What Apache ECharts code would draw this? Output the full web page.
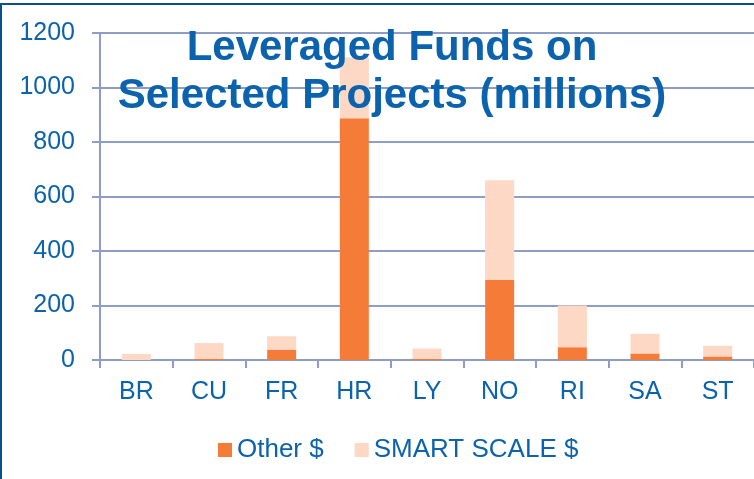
<!DOCTYPE html>
<html>
<head>
<meta charset="utf-8">
<script src="https://cdn.jsdelivr.net/npm/echarts@6/dist/echarts.min.js"></script>
<style>
  html, body { margin: 0; padding: 0; background: #fff; }
  #wrap { position: relative; width: 754px; height: 479px; overflow: hidden; }
  #chart { width: 754px; height: 479px; }
  .edge-top { position: absolute; left: 0; top: 3px; width: 754px; height: 2px; background: #0b4f91; }
  .edge-left { position: absolute; left: 0; top: 3px; width: 2px; height: 476px; background: #0b4f91; }
</style>
</head>
<body>
<div id="wrap">
  <div id="chart"></div>
  <div class="edge-top"></div>
  <div class="edge-left"></div>
</div>
<script>
const categories = ['BR', 'CU', 'FR', 'HR', 'LY', 'NO', 'RI', 'SA', 'ST']
const otherValues = [0, 4, 38, 887, 4, 294, 47, 24, 13]
const smartScaleValues = [22, 58, 49, 223, 38, 366, 153, 72, 39]
const yTicks = { min: 0, max: 1200, interval: 200 }
const titleLines = ['Leveraged Funds on', 'Selected Projects (millions)']

const blue = '#0b62ad'
const gridBlue = '#8d9dc8'

const chart = echarts.init(document.getElementById('chart'))

chart.setOption({
  animation: false,
  textStyle: { fontFamily: 'Liberation Sans, Arial, sans-serif' },
  grid: { left: 100, top: 33, width: 657, height: 327 },
  legend: {
    left: 213,
    top: 432,
    itemWidth: 14,
    itemHeight: 14,
    itemGap: 31,
    icon: 'rect',
    textStyle: { color: blue, fontSize: 26 },
    data: ['Other $', 'SMART SCALE $'],
  },
  xAxis: {
    type: 'category',
    data: categories,
    axisLine: { lineStyle: { color: gridBlue, width: 2 } },
    axisTick: { show: true, length: 8, lineStyle: { color: gridBlue, width: 2 } },
    axisLabel: { color: blue, fontSize: 25, margin: 20 },
  },
  yAxis: {
    type: 'value',
    min: yTicks.min,
    max: yTicks.max,
    interval: yTicks.interval,
    axisLine: { show: true, lineStyle: { color: gridBlue, width: 2 } },
    axisTick: { show: true, length: 8, lineStyle: { color: gridBlue, width: 2 } },
    axisLabel: { color: blue, fontSize: 25, margin: 25, formatter: v => String(v) },
    splitLine: { lineStyle: { color: gridBlue, width: 2 } },
  },
  series: [
    {
      name: 'Other $',
      type: 'bar',
      stack: 'total',
      barWidth: 29,
      itemStyle: { color: '#f47b38' },
      data: otherValues,
    },
    {
      name: 'SMART SCALE $',
      type: 'bar',
      stack: 'total',
      barWidth: 29,
      itemStyle: { color: '#fcd8c5' },
      data: smartScaleValues,
    },
  ],
  graphic: [
    {
      type: 'text',
      x: 392,
      y: 72,
      z: 100,
      style: {
        text: titleLines.join('\n'),
        fill: blue,
        font: 'bold 42px "Liberation Sans", Arial, sans-serif',
        lineHeight: 48,
        align: 'center',
        verticalAlign: 'middle',
      },
    },
  ],
})
</script>
</body>
</html>
